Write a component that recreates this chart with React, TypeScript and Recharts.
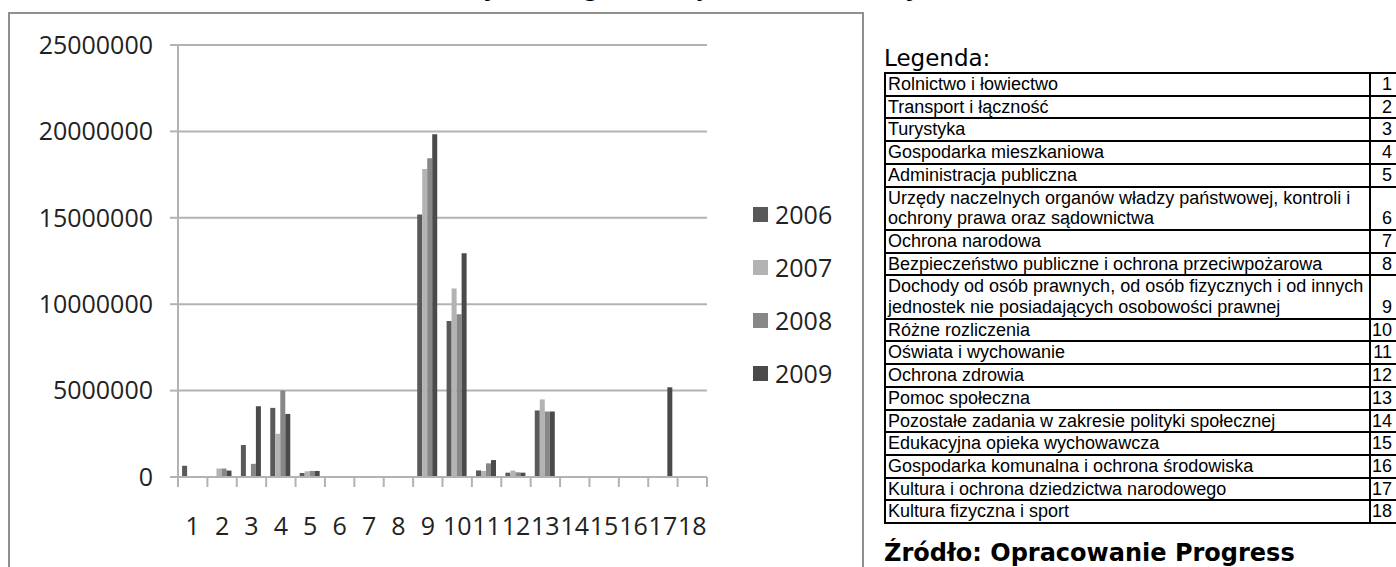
import React from 'react';
import { BarChart, Bar, XAxis, YAxis, CartesianGrid } from 'recharts';

/* ─── Data ─────────────────────────────────────────────────────────────── */

const categories = ['1', '2', '3', '4', '5', '6', '7', '8', '9', '10', '11', '12', '13', '14', '15', '16', '17', '18'];

const y2006 = [650000, 0, 1850000, 4000000, 230000, 0, 0, 0, 15190000, 9030000, 380000, 250000, 3850000, 0, 0, 0, 0, 0];
const y2007 = [0, 490000, 0, 2500000, 330000, 0, 0, 0, 17820000, 10910000, 350000, 370000, 4490000, 0, 0, 0, 0, 0];
const y2008 = [0, 490000, 760000, 5000000, 350000, 0, 0, 0, 18440000, 9420000, 790000, 270000, 3790000, 0, 0, 0, 0, 0];
const y2009 = [0, 370000, 4100000, 3650000, 350000, 0, 0, 0, 19840000, 12950000, 980000, 250000, 3790000, 0, 0, 0, 5190000, 0];

const yTicks = [0, 5000000, 10000000, 15000000, 20000000, 25000000];

const series = [
  { key: 'y2006', name: '2006', color: '#595959' },
  { key: 'y2007', name: '2007', color: '#b3b3b3' },
  { key: 'y2008', name: '2008', color: '#878787' },
  { key: 'y2009', name: '2009', color: '#4a4a4a' },
];

const legendRows = [
  'Rolnictwo i łowiectwo',
  'Transport i łączność',
  'Turystyka',
  'Gospodarka mieszkaniowa',
  'Administracja publiczna',
  'Urzędy naczelnych organów władzy państwowej, kontroli i\nochrony prawa oraz sądownictwa',
  'Ochrona narodowa',
  'Bezpieczeństwo publiczne i ochrona przeciwpożarowa',
  'Dochody od osób prawnych, od osób fizycznych i od innych\njednostek nie posiadających osobowości prawnej',
  'Różne rozliczenia',
  'Oświata i wychowanie',
  'Ochrona zdrowia',
  'Pomoc społeczna',
  'Pozostałe zadania w zakresie polityki społecznej',
  'Edukacyjna opieka wychowawcza',
  'Gospodarka komunalna i ochrona środowiska',
  'Kultura i ochrona dziedzictwa narodowego',
  'Kultura fizyczna i sport',
];

const data = categories.map((c, i) => ({
  cat: c, y2006: y2006[i], y2007: y2007[i], y2008: y2008[i], y2009: y2009[i],
}));

/* ─── Styles ───────────────────────────────────────────────────────────── */

const AXIS_FONT = '"Open Sans", sans-serif';
const GRID = '#b3b3b3';
const TXT = '#222';

/* tick label at band centre, tick mark on the band edges (Excel style) */
function CatTick(props: any) {
  const { x, y, payload, index, visibleTicksCount } = props;
  const half = payload?.offset ?? 0;
  const top = y - 40;
  return (
    <g>
      <line x1={x - half} x2={x - half} y1={top} y2={top + 10} stroke={GRID} strokeWidth={2} />
      {index === visibleTicksCount - 1 && (
        <line x1={x + half} x2={x + half} y1={top} y2={top + 10} stroke={GRID} strokeWidth={2} />
      )}
      <text x={x} y={y} dy={18} textAnchor="middle" fill={TXT}
        style={{ fontFamily: AXIS_FONT, fontSize: 25 }}>
        {payload.value}
      </text>
    </g>
  );
}

const CELL = { border: '2px solid #000', padding: '0 2px', whiteSpace: 'pre' as const };

export default function App() {
  return (
    <div style={{ position: 'absolute', left: 0, top: 0, width: 1396, height: 567, overflow: 'hidden', background: '#fff' }}>
      {/* title, mostly cut off at the top */}
      <div style={{
        position: 'absolute', left: 403, top: -21, width: 572, textAlign: 'center', whiteSpace: 'nowrap',
        fontFamily: '"DejaVu Sans", sans-serif', fontWeight: 'bold', fontSize: 22, lineHeight: '22px',
      }}>
        Wydatki ogółem w podziale na działy
      </div>

      {/* chart frame */}
      <div style={{ position: 'absolute', left: 8, top: 12, width: 852, height: 600, border: '2px solid #8f8f8f' }} />

      <div style={{ position: 'absolute', left: 0, top: 0 }}>
        <BarChart width={862} height={567} data={data}
          margin={{ top: 45, right: 155, bottom: 30, left: 28 }}
          barCategoryGap="14%" barGap={0}>
          <CartesianGrid vertical={false} stroke={GRID} strokeWidth={2} />
          <XAxis dataKey="cat" interval={0} height={60} tickSize={10} tickMargin={30}
            axisLine={{ stroke: GRID, strokeWidth: 2 }} tickLine={false} tick={<CatTick />} />
          <YAxis domain={[0, 25000000]} ticks={yTicks} width={150} tickSize={8} tickMargin={17}
            axisLine={{ stroke: GRID, strokeWidth: 2 }} tickLine={{ stroke: GRID, strokeWidth: 2 }}
            tick={{ fill: TXT, fontSize: 25, fontFamily: AXIS_FONT }} />
          {series.map((s) => (
            <Bar key={s.key} dataKey={s.key} name={s.name} fill={s.color} isAnimationActive={false} />
          ))}
        </BarChart>
      </div>

      {/* series legend */}
      {series.map((s, i) => (
        <div key={s.key} style={{
          position: 'absolute', left: 753, top: 197 + i * 53, height: 34, display: 'flex', alignItems: 'center',
          fontFamily: AXIS_FONT, fontSize: 25, color: TXT,
        }}>
          <span style={{ display: 'inline-block', width: 15, height: 15, background: s.color, marginRight: 7 }} />
          {s.name}
        </div>
      ))}

      {/* category key */}
      <div style={{
        position: 'absolute', left: 884, top: 44, fontFamily: '"DejaVu Sans", sans-serif', fontSize: 23, lineHeight: '28px',
      }}>
        Legenda:
      </div>
      <table style={{
        position: 'absolute', left: 884, top: 72, borderCollapse: 'collapse', width: 530, tableLayout: 'fixed',
        fontFamily: '"Liberation Sans", Arial, sans-serif', fontSize: 18, lineHeight: '20.7px', color: '#000',
      }}>
        <colgroup>
          <col style={{ width: 485 }} />
          <col style={{ width: 45 }} />
        </colgroup>
        <tbody>
          {legendRows.map((r, i) => (
            <tr key={i}>
              <td style={CELL}>{r}</td>
              <td style={{ ...CELL, padding: '0 22px 0 0', textAlign: 'right', verticalAlign: 'bottom' }}>
                {categories[i]}
              </td>
            </tr>
          ))}
        </tbody>
      </table>

      <div style={{
        position: 'absolute', left: 884, top: 538, whiteSpace: 'nowrap',
        fontFamily: '"DejaVu Sans", sans-serif', fontWeight: 'bold', fontSize: 24, lineHeight: '30px',
      }}>
        Źródło: Opracowanie Progress
      </div>
    </div>
  );
}
